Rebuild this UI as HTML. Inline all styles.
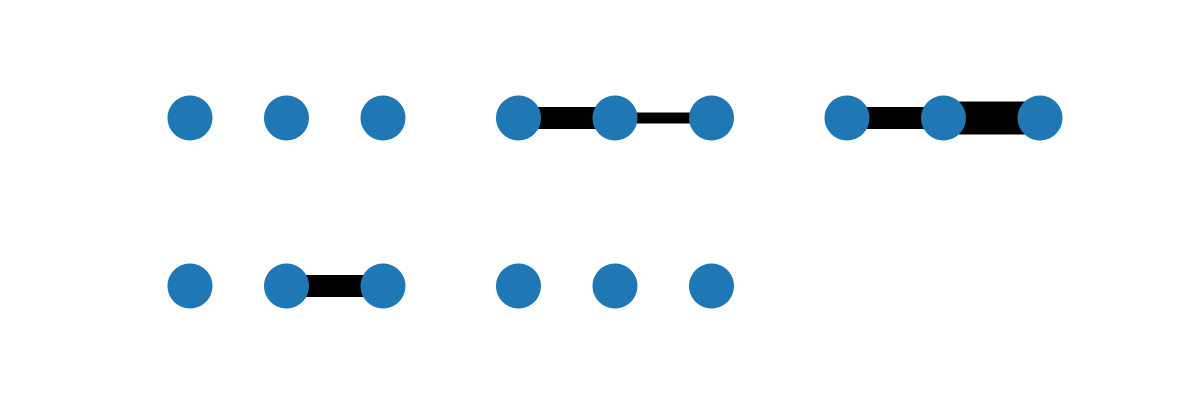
<!DOCTYPE html>
<html><head><meta charset="utf-8"><style>body{margin:0;background:#fff}svg{display:block}</style></head>
<body>
<svg id="chart" width="1200" height="400" viewBox="0 0 1200 400" xmlns="http://www.w3.org/2000/svg"></svg>
<script>
// edge weights per subplot: [w(node0-node1), w(node1-node2)]
const edgeWeights01 = [0, 2, 2, 0, 0];
const edgeWeights12 = [0, 1, 3, 2, 0];
const nodeLabels = ["a", "b", "c"];
const panelCols = [0, 1, 2, 0, 1];
const panelRows = [0, 0, 0, 1, 1];

const svg = document.getElementById('chart');
const NS = 'http://www.w3.org/2000/svg';
const colX = c => 190 + c * 328.5;
const rowY = r => 118 + r * 168;
const nodeX = (c, i) => colX(c) + i * 96.5;
const widthScale = w => w * 11;

for (let p = 0; p < panelCols.length; p++) {
  const g = document.createElementNS(NS, 'g');
  
  
  const y = rowY(panelRows[p]);
  const ws = [edgeWeights01[p], edgeWeights12[p]];
  ws.forEach((w, i) => {
    if (w <= 0) return;
    const l = document.createElementNS(NS, 'line');
    l.setAttribute('x1', nodeX(panelCols[p], i));
    l.setAttribute('x2', nodeX(panelCols[p], i + 1));
    l.setAttribute('y1', y);
    l.setAttribute('y2', y);
    l.setAttribute('stroke', '#000');
    l.setAttribute('stroke-width', widthScale(w));
    
    
    g.appendChild(l);
  });
  nodeLabels.forEach((n, i) => {
    const c = document.createElementNS(NS, 'circle');
    c.setAttribute('cx', nodeX(panelCols[p], i));
    c.setAttribute('cy', y);
    c.setAttribute('r', 22.5);
    c.setAttribute('fill', '#1f77b4');
    
    
    g.appendChild(c);
  });
  svg.appendChild(g);
}
</script>
</body></html>
